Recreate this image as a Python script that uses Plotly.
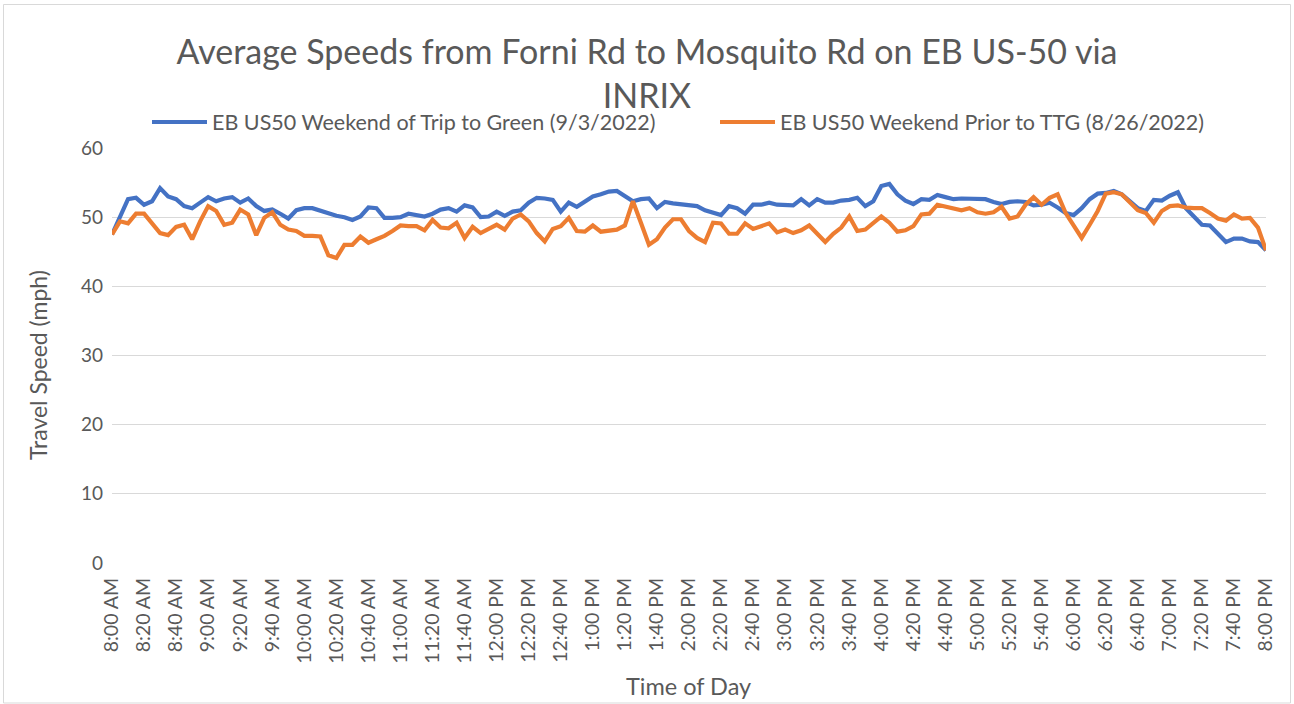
import plotly.graph_objects as go

# 5-minute time categories from 8:00 AM to 8:00 PM
TIME_CATEGORIES = []
for m in range(480, 1200 + 1, 5):
    h, mm = divmod(m, 60)
    suffix = "AM" if h < 12 else "PM"
    h12 = h if h <= 12 else h - 12
    TIME_CATEGORIES.append(f"{h12}:{mm:02d} {suffix}")

TICK_LABELS = [
    "8:00 AM", "8:20 AM", "8:40 AM", "9:00 AM", "9:20 AM", "9:40 AM",
    "10:00 AM", "10:20 AM", "10:40 AM", "11:00 AM", "11:20 AM", "11:40 AM",
    "12:00 PM", "12:20 PM", "12:40 PM", "1:00 PM", "1:20 PM", "1:40 PM",
    "2:00 PM", "2:20 PM", "2:40 PM", "3:00 PM", "3:20 PM", "3:40 PM",
    "4:00 PM", "4:20 PM", "4:40 PM", "5:00 PM", "5:20 PM", "5:40 PM",
    "6:00 PM", "6:20 PM", "6:40 PM", "7:00 PM", "7:20 PM", "7:40 PM",
    "8:00 PM",
]

SERIES_TTG_NAME = "EB US50 Weekend of Trip to Green (9/3/2022)"
SERIES_TTG = [
    47.5, 50.0, 52.6, 52.8, 51.8, 52.3, 54.2, 53.0, 52.6, 51.6, 51.3, 52.1,
    52.9, 52.3, 52.7, 52.9, 52.1, 52.7, 51.6, 50.9, 51.1, 50.5, 49.8, 51.0,
    51.3, 51.3, 50.9, 50.5, 50.2, 50.0, 49.6, 50.1, 51.4, 51.3, 49.9, 49.9,
    50.0, 50.5, 50.3, 50.1, 50.5, 51.1, 51.3, 50.8, 51.7, 51.4, 50.0, 50.1,
    50.8, 50.2, 50.8, 51.0, 52.1, 52.8, 52.7, 52.5, 50.8, 52.1, 51.5, 52.3,
    53.0, 53.3, 53.7, 53.8, 53.1, 52.3, 52.6, 52.7, 51.3, 52.2, 52.0, 51.9,
    51.7, 51.6, 51.0, 50.6, 50.3, 51.6, 51.3, 50.5, 51.8, 51.8, 52.1, 51.8,
    51.7, 51.7, 52.6, 51.7, 52.6, 52.1, 52.1, 52.4, 52.5, 52.8, 51.6, 52.3,
    54.5, 54.8, 53.3, 52.4, 51.9, 52.6, 52.5, 53.2, 52.9, 52.6, 52.7, 52.7,
    52.7, 52.6, 52.2, 51.9, 52.2, 52.3, 52.2, 51.7, 51.8, 52.1, 51.4, 50.6,
    50.3, 51.3, 52.6, 53.4, 53.5, 53.8, 53.3, 52.3, 51.3, 50.9, 52.5, 52.4,
    53.1, 53.6, 51.3, 50.1, 48.9, 48.8, 47.7, 46.4, 46.9, 46.9, 46.5, 46.4,
    45.2,
]

SERIES_PRIOR_NAME = "EB US50 Weekend Prior to TTG (8/26/2022)"
SERIES_PRIOR = [
    47.5, 49.4, 49.1, 50.5, 50.5, 49.2, 47.7, 47.4, 48.6, 48.9, 46.8, 49.4,
    51.6, 50.9, 48.9, 49.2, 51.1, 50.4, 47.4, 49.9, 50.7, 48.9, 48.2, 48.0,
    47.3, 47.3, 47.2, 44.5, 44.1, 46.0, 46.0, 47.2, 46.3, 46.8, 47.3, 48.0,
    48.8, 48.7, 48.7, 48.1, 49.6, 48.5, 48.4, 49.2, 47.0, 48.6, 47.7, 48.3,
    48.9, 48.2, 49.8, 50.4, 49.4, 47.7, 46.5, 48.3, 48.7, 49.9, 48.0, 47.9,
    48.8, 47.9, 48.1, 48.2, 48.8, 52.3, 49.2, 46.0, 46.8, 48.5, 49.7, 49.7,
    48.0, 47.0, 46.4, 49.2, 49.1, 47.6, 47.6, 49.1, 48.3, 48.7, 49.1, 47.8,
    48.2, 47.7, 48.1, 48.8, 47.5, 46.4, 47.6, 48.5, 50.1, 48.0, 48.2, 49.2,
    50.1, 49.2, 47.9, 48.1, 48.7, 50.4, 50.5, 51.8, 51.5, 51.3, 51.0, 51.3,
    50.7, 50.5, 50.7, 51.5, 49.8, 50.1, 51.8, 52.9, 51.8, 52.8, 53.3, 50.6,
    48.7, 47.0, 48.9, 50.9, 53.4, 53.6, 53.3, 52.1, 51.0, 50.6, 49.2, 50.9,
    51.6, 51.7, 51.4, 51.3, 51.3, 50.6, 49.8, 49.5, 50.4, 49.8, 49.9, 48.5,
    45.2,
]

Y_TICKS = [0, 10, 20, 30, 40, 50, 60]

TEXT = "#595959"
FONT = "Lato"

W, H = 1294, 704
L, R, T, B = 112, 28, 148, 141
PW, PH = W - L - R, H - T - B

def px_x(x):
    return (x - L) / PW

def px_y(y):
    return (H - B - y) / PH

fig = go.Figure()
fig.add_trace(go.Scatter(
    x=TIME_CATEGORIES, y=SERIES_TTG, name=SERIES_TTG_NAME, mode="lines",
    line=dict(color="#4472C4", width=4.2, shape="linear"),
))
fig.add_trace(go.Scatter(
    x=TIME_CATEGORIES, y=SERIES_PRIOR, name=SERIES_PRIOR_NAME, mode="lines",
    line=dict(color="#ED7D31", width=4.2, shape="linear"),
))

fig.update_layout(
    width=W, height=H,
    margin=dict(l=L, r=R, t=T, b=B, autoexpand=False),
    paper_bgcolor="white", plot_bgcolor="white",
    font=dict(family=FONT, color=TEXT),
    title=dict(
        text="Average Speeds from Forni Rd to Mosquito Rd on EB US-50 via<br>INRIX",
        x=0.5, xanchor="center", y=1 - 64 / H, yanchor="middle",
        font=dict(size=34, color=TEXT, family=FONT),
    ),
    showlegend=True,
    legend=dict(
        orientation="h", x=px_x(715), xanchor="center",
        y=px_y(122), yanchor="middle",
        font=dict(size=21.5, color=TEXT, family=FONT),
        bgcolor="rgba(0,0,0,0)", itemwidth=55, tracegroupgap=0,
        entrywidth=498, entrywidthmode="pixels",
    ),
    xaxis=dict(
        type="category", categoryorder="array", categoryarray=TIME_CATEGORIES,
        range=[0, len(TIME_CATEGORIES) - 1],
        tickmode="array", tickvals=TICK_LABELS, ticktext=TICK_LABELS,
        tickangle=-90, tickfont=dict(size=19.5, color=TEXT, family=FONT),
        showgrid=False, zeroline=False, showline=False, ticks="",
        ticklabelstandoff=10, automargin=False,
    ),
    yaxis=dict(
        range=[0, 60], tickmode="array", tickvals=Y_TICKS,
        tickfont=dict(size=19, color=TEXT, family=FONT),
        showgrid=True, gridcolor="#D9D9D9", gridwidth=1,
        zeroline=False, showline=False, ticks="", ticklabelstandoff=8,
        automargin=False,
    ),
    annotations=[
        dict(text="Time of Day", xref="paper", yref="paper",
             x=px_x(688), y=px_y(686), xanchor="center", yanchor="middle",
             showarrow=False, font=dict(size=23.5, color=TEXT, family=FONT)),
        dict(text="Travel Speed (mph)", xref="paper", yref="paper",
             x=px_x(38), y=px_y(365), xanchor="center", yanchor="middle",
             textangle=-90, showarrow=False,
             font=dict(size=23, color=TEXT, family=FONT)),
    ],
    shapes=[
        dict(type="rect", xref="paper", yref="paper",
             x0=px_x(3.5), x1=px_x(1290.5), y0=px_y(703), y1=px_y(4.5),
             line=dict(color="#D9D9D9", width=1), fillcolor="rgba(0,0,0,0)",
             layer="below"),
    ],
)

fig.write_html(
    "out.html",
    config={"displayModeBar": False},
    post_script="document.body.style.margin='0';document.body.style.padding='0';",
)
